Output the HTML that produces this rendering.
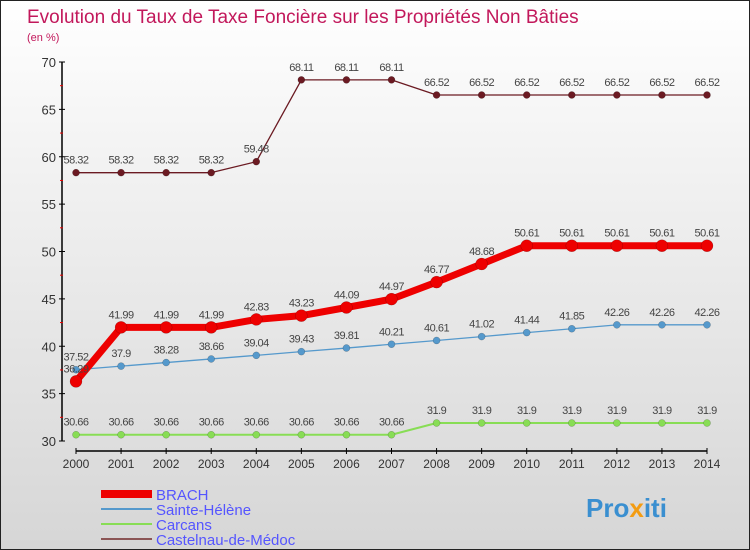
<!DOCTYPE html>
<html><head><meta charset="utf-8"><style>
body{margin:0}
#c{width:750px;height:550px;position:relative;box-sizing:border-box;border:1px solid #222;background:linear-gradient(#fff,#f2f2f2 30%,#d6d6d6);font-family:"Liberation Sans",sans-serif;overflow:hidden}
</style></head><body>
<div id="c">
<svg id="s" width="750" height="550" style="position:absolute;left:0;top:0">
<text x="26" y="22" font-size="19" fill="#c2185b">Evolution du Taux de Taxe Foncière sur les Propriétés Non Bâties</text>
<text x="26" y="40" font-size="11" fill="#c2185b">(en %)</text>
<text x="585" y="516" font-size="26" font-weight="bold" fill="#3a8fd0">Pro<tspan fill="#f39c12">x</tspan>iti</text>
</svg>
</div>
<script>
const years=[2000,2001,2002,2003,2004,2005,2006,2007,2008,2009,2010,2011,2012,2013,2014];
const brach=[36.29,41.99,41.99,41.99,42.83,43.23,44.09,44.97,46.77,48.68,50.61,50.61,50.61,50.61,50.61];
const sainte=[37.52,37.9,38.28,38.66,39.04,39.43,39.81,40.21,40.61,41.02,41.44,41.85,42.26,42.26,42.26];
const carcans=[30.66,30.66,30.66,30.66,30.66,30.66,30.66,30.66,31.9,31.9,31.9,31.9,31.9,31.9,31.9];
const castel=[58.32,58.32,58.32,58.32,59.48,68.11,68.11,68.11,66.52,66.52,66.52,66.52,66.52,66.52,66.52];
const yTicks=[30,35,40,45,50,55,60,65,70];
const svg=document.getElementById('s');
const NS='http://www.w3.org/2000/svg';
const X=i=>75+i*(706-75)/(years.length-1);
const Y=v=>440-(v-30)*(440-61)/40;
function mk(t,a){const e=document.createElementNS(NS,t);for(const k in a)e.setAttribute(k,a[k]);svg.appendChild(e);return e;}
let ax=mk('line',{x1:61,y1:61,x2:61,y2:440,stroke:'#000','stroke-width':1.5});


yTicks.forEach(v=>{
 let t=mk('line',{x1:58,x2:64,y1:Y(v),y2:Y(v),stroke:'#000'});
 
 
 let l=mk('text',{x:55,y:Y(v)+5,'text-anchor':'end','font-size':13,fill:'#333'});l.textContent=v;
 
 
 if(v<70){let m=mk('line',{x1:59,x2:62,y1:Y(v+2.5),y2:Y(v+2.5),stroke:'#e00'});
 
 }
});
let xa=mk('line',{x1:75,y1:450,x2:706,y2:450,stroke:'#000','stroke-width':1.5});


years.forEach((yr,i)=>{
 let t=mk('line',{x1:X(i),x2:X(i),y1:447,y2:453,stroke:'#000'});
 
 
 let l=mk('text',{x:X(i),y:467,'text-anchor':'middle','font-size':12,fill:'#333'});l.textContent=yr;
 
 
});
function series(data,color,w,r,name){
 let p=mk('polyline',{points:data.map((v,i)=>X(i)+','+Y(v)).join(' '),fill:'none',stroke:color,'stroke-width':w,'stroke-linejoin':'round'});
 
 
 data.forEach((v,i)=>{
  let c=mk('circle',{cx:X(i),cy:Y(v),r:r,fill:color,stroke:'rgba(0,0,0,0.3)','stroke-width':0.5});
  
  
  let t=mk('text',{x:X(i),y:Y(v)-9,'text-anchor':'middle','font-size':11,fill:'#444','letter-spacing':'-0.5'});t.textContent=v;
  
  
 });
}
series(castel,'#6b1a22',1.3,3.5,'castelnau');
series(carcans,'#88dd55',2,3.5,'carcans');
series(sainte,'#5599cc',1.3,3.5,'sainte-helene');
series(brach,'#ee0000',7,6,'brach');
const leg=[['BRACH','#ee0000',8],['Sainte-Hélène','#5599cc',2],['Carcans','#88dd55',2],['Castelnau-de-Médoc','#8b5555',2]];
leg.forEach((d,i)=>{
 let y=493+i*15;
 let l=mk('line',{x1:100,x2:151,y1:y,y2:y,stroke:d[1],'stroke-width':d[2]});
 
 
 let t=mk('text',{x:155,y:y+6,'font-size':15,fill:'#5555ff'});t.textContent=d[0];
 
 
});
</script>
</body></html>
